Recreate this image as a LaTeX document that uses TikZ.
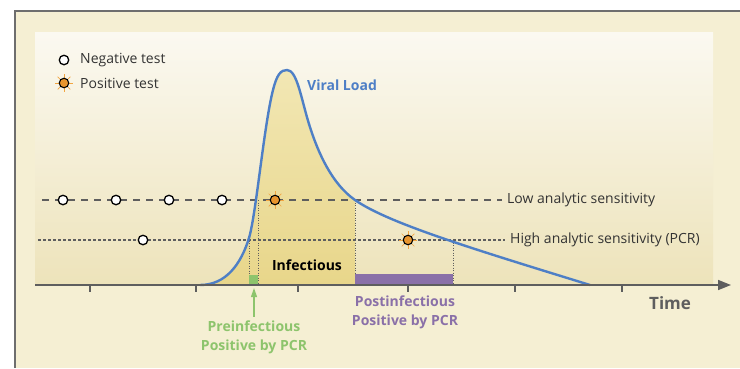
\documentclass[tikz,border=0pt]{standalone}
\usepackage{fontspec}
\setmainfont{Open Sans}
\usetikzlibrary{arrows.meta}
\definecolor{framebg}{HTML}{F5EFD3}
\definecolor{framegray}{HTML}{6E6E6E}
\definecolor{paneltop}{HTML}{FBF9F1}
\definecolor{panelbot}{HTML}{EDE3BA}
\definecolor{infecttop}{HTML}{F2E7B4}
\definecolor{infectbot}{HTML}{E8D68A}
\definecolor{vblue}{HTML}{4E7FC6}
\definecolor{axgray}{HTML}{5E5E5E}
\definecolor{txtgray}{HTML}{333333}
\definecolor{pgreen}{HTML}{8DC46C}
\definecolor{ppurple}{HTML}{8A70A8}
\definecolor{porange}{HTML}{E8952E}
\definecolor{prays}{HTML}{F2A642}
\tikzset{
  negc/.style={circle,draw=black,fill=white,line width=1.3pt,inner sep=0pt,minimum size=9.5pt},
  posc/.style={circle,draw=black,fill=porange,line width=1.1pt,inner sep=0pt,minimum size=9.5pt},
  ray/.style={prays,line width=0.7pt},
  lowline/.style={axgray,line width=1.1pt,dash pattern=on 7pt off 6pt},
  highline/.style={axgray,line width=1.1pt,dash pattern=on 2.5pt off 2.5pt},
  vdot/.style={axgray,line width=0.7pt,dash pattern=on 1pt off 1.5pt},
  lbl/.style={font=\fontsize{14}{16}\selectfont,text=txtgray,inner sep=0pt,anchor=west},
  boldlbl/.style={font=\fontsize{14}{19}\selectfont\bfseries},
  tick/.style={axgray,line width=1.2pt},
}
\def\riseandpeak{(200,285) .. controls (226,285) and (241,264) .. (249,238)
  .. controls (256,215) and (264,125) .. (273,90)
  .. controls (277,74) and (281,70) .. (287,70)
  .. controls (297,70) and (301,98) .. (309,124)
  .. controls (318,153) and (332,184) .. (355,200)}
\begin{document}
\begin{tikzpicture}[x=1pt,y=-1pt]
\useasboundingbox (0,0) rectangle (740,368);
% frame
\fill[framebg] (15,11) rectangle (740,368);
\draw[framegray,line width=1.6pt] (15,368) -- (15,11) -- (740,11);
% inner panel
\shade[top color=paneltop,bottom color=panelbot] (35,32) rectangle (713,285);
% infectious fill under curve
\shade[top color=infecttop,bottom color=infectbot] \riseandpeak -- (355,285) -- cycle;
% lines
\coordinate (lowS) at (42,200);
\coordinate (lowE) at (502,200);
\coordinate (highS) at (38,240);
\coordinate (highE) at (505,240);
\draw[lowline] (lowS) -- (lowE);
\draw[highline] (highS) -- (highE);
\node[lbl] (lowlbl) at (507,200) {Low analytic sensitivity};
\node[lbl] (highlbl) at (510,240) {High analytic sensitivity (PCR)};
% vertical dotted
\coordinate (v1t) at (249,238); \coordinate (v1b) at (249,285);
\coordinate (v2t) at (258,200); \coordinate (v2b) at (258,285);
\coordinate (v3t) at (355,200); \coordinate (v3b) at (355,285);
\coordinate (v4t) at (453,240); \coordinate (v4b) at (453,285);
\draw[vdot] (v1t) -- (v1b);
\draw[vdot] (v2t) -- (v2b);
\draw[vdot] (v3t) -- (v3b);
\draw[vdot] (v4t) -- (v4b);
% bars
\fill[pgreen] (249,275) rectangle (258,285);
\fill[ppurple] (355,274) rectangle (453,285);
\node[boldlbl,text=black] (inf) at (307,265) {Infectious};
% curve
\draw[vblue,line width=2.4pt,line join=round] \riseandpeak
  .. controls (388,223) and (470,248) .. (590,285);
\node[boldlbl,text=vblue,anchor=west,inner sep=0pt] (vl) at (307,85) {Viral Load};
% axis
\coordinate (ax0) at (35,285);
\coordinate (ax1) at (731,285);
\draw[axgray,line width=1.6pt,-{Triangle[length=13pt,width=10pt]}] (ax0) -- (ax1);
\foreach \t in {90,196,298,408,515,622} \draw[tick] (\t,285) -- (\t,292);
\node[font=\fontsize{17}{19}\selectfont\bfseries,text=axgray,anchor=west,inner sep=0pt] (time) at (649,303) {Time};
% markers
\foreach \x/\n in {63/n1,116/n2,169/n3,222/n4} \node[negc] (\n) at (\x,200) {};
\node[negc] (n5) at (143,240) {};
\foreach \p/\x/\y in {p1/275/200,p2/408/240} {
  \foreach \a in {0,45,...,315} \draw[ray] (\x,\y) ++(\a:5) -- ++(\a:4);
  \node[posc] (\p) at (\x,\y) {};
}
% legend
\node[negc] (lg1) at (64,60) {};
\foreach \a in {0,45,...,315} \draw[ray] (64,83) ++(\a:5) -- ++(\a:4);
\node[posc] (lg2) at (64,83) {};
\node[lbl] (lgt1) at (80,60) {Negative test};
\node[lbl] (lgt2) at (80,83) {Positive test};
% bottom labels
\node[boldlbl,text=pgreen,align=center] (pre) at (254,337) {Preinfectious\\Positive by PCR};
\draw[pgreen,line width=1.2pt,-{Triangle[length=9pt,width=6pt]}] (pre.north) -- (254,288);
\node[boldlbl,text=ppurple,align=center] (post) at (405,312) {Postinfectious\\Positive by PCR};
\end{tikzpicture}
\end{document}
